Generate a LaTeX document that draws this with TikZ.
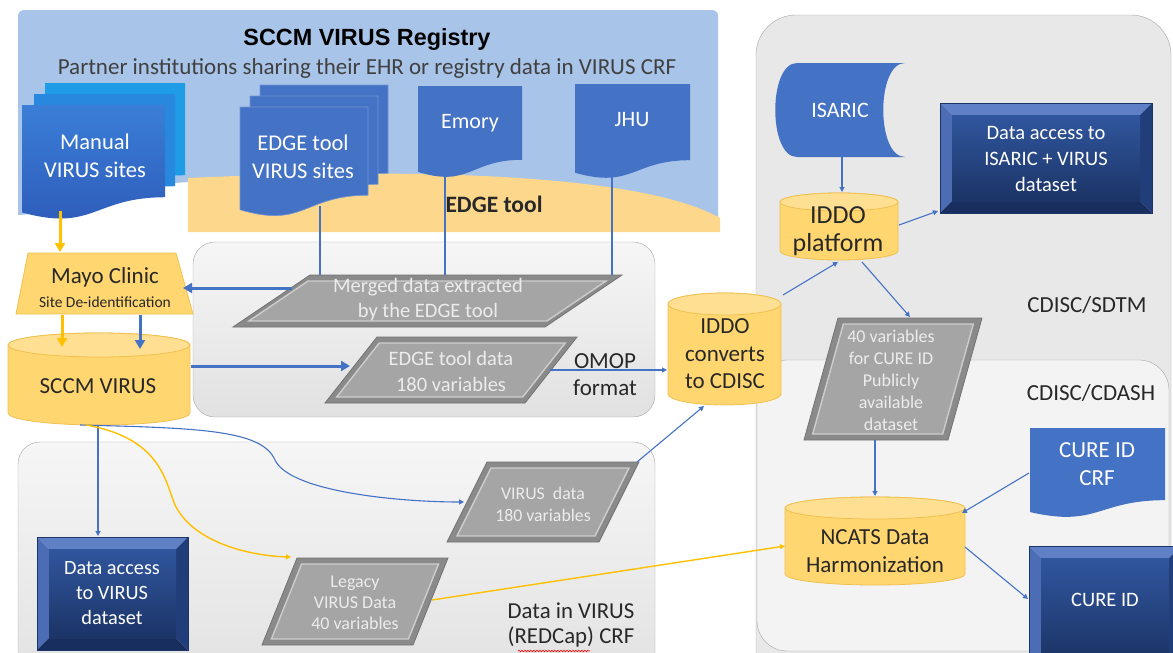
\documentclass[tikz,border=0pt]{standalone}
\usepackage{fontspec}
\setmainfont{Carlito}
\newfontfamily\arialfont{Liberation Sans}
\usetikzlibrary{arrows.meta,decorations.pathmorphing}
\definecolor{bgblue}{RGB}{168,196,232}
\definecolor{edgeyel}{RGB}{252,215,140}
\definecolor{docblue}{RGB}{68,114,196}
\definecolor{cylyel}{RGB}{255,214,112}
\definecolor{cylcap}{RGB}{255,224,146}
\definecolor{cylline}{RGB}{240,192,80}
\definecolor{txtdark}{RGB}{40,40,40}
\definecolor{txtgray}{RGB}{64,64,64}
\definecolor{arrowyel}{RGB}{255,192,0}
\definecolor{boxline}{RGB}{165,165,165}
\definecolor{boxtop}{RGB}{246,246,246}
\definecolor{boxbot}{RGB}{225,225,225}
\definecolor{rgray}{RGB}{232,232,232}
\definecolor{rgraytwo}{RGB}{243,243,243}
\definecolor{partxt}{RGB}{236,236,236}
\definecolor{parout}{RGB}{138,138,138}
\definecolor{paroutline}{RGB}{115,115,115}
\definecolor{parin}{RGB}{165,165,165}
\definecolor{parinline}{RGB}{205,205,205}
\definecolor{navytop}{RGB}{48,86,158}
\definecolor{navybot}{RGB}{28,52,102}
\definecolor{bevtop}{RGB}{96,128,198}
\definecolor{bevleft}{RGB}{76,108,180}
\definecolor{bevright}{RGB}{34,62,122}
\definecolor{bevbot}{RGB}{24,46,94}
\definecolor{mantop}{RGB}{58,126,216}
\definecolor{manbot}{RGB}{46,90,184}
\definecolor{manback}{RGB}{30,156,230}
\definecolor{manmid}{RGB}{40,136,222}
\newcommand\fs[2]{\fontsize{#1}{#2}\selectfont}
\newcommand\mydoc[4]{(#1,#2) -- (#3,#2) -- (#3,{#2+0.802*(#4-#2)}) .. controls ({(#1+#3)/2},{#2+0.802*(#4-#2)}) and ({(#1+#3)/2},{#2+1.107*(#4-#2)}) .. (#1,{#2+0.934*(#4-#2)}) -- cycle}
\newcommand\mycyl[5]{%
 \pgfmathsetmacro\mycx{(#1+#3)/2}%
 \pgfmathsetmacro\myrx{(#3-#1)/2}%
 \pgfmathsetmacro\mykx{0.5523*\myrx}%
 \pgfmathsetmacro\myky{0.5523*#5}%
 \filldraw[fill=cylyel, draw=cylline, line width=0.8pt] (#1,#2) -- (#1,#4) .. controls (#1,{#4+\myky}) and ({\mycx-\mykx},{#4+#5}) .. (\mycx,{#4+#5}) .. controls ({\mycx+\mykx},{#4+#5}) and (#3,{#4+\myky}) .. (#3,#4) -- (#3,#2) .. controls (#3,{#2-\myky}) and ({\mycx+\mykx},{#2-#5}) .. (\mycx,{#2-#5}) .. controls ({\mycx-\mykx},{#2-#5}) and (#1,{#2-\myky}) .. (#1,#2) -- cycle;
 \filldraw[fill=cylcap, draw=cylline, line width=0.8pt] (\mycx,#2) ellipse [x radius=\myrx, y radius=#5];
}
\newcommand\mypara[5]{%
 \pgfmathsetmacro\myph{#5-#2}%
 \pgfmathsetmacro\mysa{#4*6/\myph}%
 \pgfmathsetmacro\mysb{#4*(\myph-6)/\myph}%
 \filldraw[fill=parout, draw=paroutline, line width=0.8pt] (#1,#2) -- (#3,#2) -- ({#3-#4},#5) -- ({#1-#4},#5) -- cycle;
 \filldraw[fill=parin, draw=parinline, line width=1.4pt] ({#1-\mysa+7},{#2+6}) -- ({#3-\mysa-7},{#2+6}) -- ({#3-\mysb-7},{#5-6}) -- ({#1-\mysb+7},{#5-6}) -- cycle;
}
\newcommand\mybevel[5]{%
 \fill[bevtop] (#1,#2) -- (#3,#2) -- ({#3-#5},{#2+#5}) -- ({#1+#5},{#2+#5}) -- cycle;
 \fill[bevleft] (#1,#2) -- ({#1+#5},{#2+#5}) -- ({#1+#5},{#4-#5}) -- (#1,#4) -- cycle;
 \fill[bevright] (#3,#2) -- (#3,#4) -- ({#3-#5},{#4-#5}) -- ({#3-#5},{#2+#5}) -- cycle;
 \fill[bevbot] (#1,#4) -- (#3,#4) -- ({#3-#5},{#4-#5}) -- ({#1+#5},{#4-#5}) -- cycle;
 \shade[top color=navytop, bottom color=navybot] ({#1+#5},{#2+#5}) rectangle ({#3-#5},{#4-#5});
 \draw[navybot, line width=0.6pt] (#1,#2) rectangle (#3,#4);
}
\tikzset{
 lbl/.style={inner sep=0pt, align=center},
 thickb/.style={draw=docblue, line width=3pt, -{Triangle[length=9pt,width=10pt]}},
 thicky/.style={draw=arrowyel, line width=3pt, -{Triangle[length=9pt,width=10pt]}},
 thinb/.style={draw=docblue, line width=1.1pt, -{Triangle[length=5pt,width=5pt]}},
 thiny/.style={draw=arrowyel, line width=1.4pt, -{Triangle[length=5pt,width=5pt]}},
 plainb/.style={draw=docblue, line width=1.6pt},
 edgedoc/.style={fill=docblue, draw=white!25!docblue, line width=0.6pt},
 contbox/.style={top color=boxtop, bottom color=boxbot, draw=boxline, rounded corners=22pt},
}
\begin{document}
\begin{tikzpicture}[x=1pt,y=-1pt]
\useasboundingbox (0,0) rectangle (1173,653);
\clip (0,0) rectangle (1173,653);
% registry background
\fill[bgblue] (18,215) [rounded corners=6pt] -- (18,10) -- (718,10) [sharp corners] -- (718,225) -- (190,225) -- (190,182) .. controls (120,185) and (80,212) .. (18,215) -- cycle;
\fill[edgeyel] (188,178) .. controls (450,166) and (650,178) .. (720,218) -- (720,232) -- (188,232) -- cycle;
% right containers
\filldraw[fill=rgray, draw=boxline, rounded corners=40pt] (756,15) rectangle (1171,700);
\filldraw[fill=rgraytwo, draw=boxline, rounded corners=30pt] (757,360) rectangle (1169,651);
% middle and lower containers
\shadedraw[contbox] (193,242) rectangle (655,417);
\shadedraw[contbox] (18,442) rectangle (655,690);
% manual sites (multidocument)
\fill[manback] \mydoc{45}{83}{185}{198};
\fill[manmid] \mydoc{34}{94}{175}{209};
\shade[top color=mantop, bottom color=manbot] \mydoc{22}{105}{165}{220};
% EDGE sites (multidocument)
\filldraw[edgedoc] \mydoc{260}{85}{388}{195};
\filldraw[edgedoc] \mydoc{250}{96}{378}{206};
\filldraw[edgedoc] \mydoc{240}{107}{368}{217};
% Emory, JHU
\fill[docblue] \mydoc{418}{86}{522}{178};
\fill[docblue] \mydoc{575}{84}{690}{179};
% ISARIC stored data
\fill[docblue] (797,63) -- (905,63) .. controls (876,63) and (876,157) .. (905,157) -- (797,157) .. controls (768,157) and (768,63) .. (797,63) -- cycle;
% CURE ID CRF
\fill[docblue] \mydoc{1030}{428}{1165}{518};
% Mayo trapezoid
\filldraw[fill=cylyel, draw=cylline, line width=0.8pt] (28,253) -- (176,253) -- (193,314) -- (16,314) -- cycle;
% cylinders
\mycyl{8}{345}{190}{413}{12}
\mycyl{668}{304}{781}{394}{11}
\mycyl{780}{202}{898}{251}{9}
\mycyl{785}{508}{965}{574}{11}
% parallelograms
\mypara{310}{275}{622}{77}{327}
\mypara{377}{337}{577}{52}{403}
\mypara{487}{462}{639}{40}{542}
\mypara{297}{558}{448}{35}{645}
\mypara{838}{318}{982}{34}{440}
% bevel boxes
\mybevel{37}{537}{188}{650}{12}
\mybevel{940}{103}{1152}{213}{12}
\mybevel{1029}{546}{1181}{672}{12}
% connector end points
\coordinate (manB) at (60,211);
\coordinate (mayoT) at (60,252);
\coordinate (mayoB1) at (62,315);
\coordinate (sccmT1) at (62,347);
\coordinate (mayoB2) at (140,315);
\coordinate (sccmT2) at (140,349);
\coordinate (mergL) at (292,288);
\coordinate (mayoR) at (183,288);
\coordinate (sccmR) at (191,366);
\coordinate (edL) at (350,366);
\coordinate (edgeB) at (320,206);
\coordinate (mergT1) at (320,275);
\coordinate (emoB) at (445,172);
\coordinate (mergT2) at (445,275);
\coordinate (jhuB) at (612,172);
\coordinate (mergT3) at (612,275);
\coordinate (edR) at (550,370);
\coordinate (iddocL) at (667,370);
\coordinate (vdTR) at (637,462);
\coordinate (iddocB) at (704,406);
\coordinate (sccmB) at (98,426);
\coordinate (davT) at (98,536);
\coordinate (sccmB2) at (80,425);
\coordinate (vdL) at (464,502);
\coordinate (sccmB3) at (86,425);
\coordinate (legL) at (291,557);
\coordinate (legR) at (432,600);
\coordinate (ncL) at (785,546);
\coordinate (iddocT) at (783,295);
\coordinate (iddopB) at (838,262);
\coordinate (isaB) at (842,157);
\coordinate (iddopT) at (842,192);
\coordinate (iddopR) at (899,225);
\coordinate (daiL) at (938,211);
\coordinate (iddopB2) at (862,262);
\coordinate (fvT) at (910,317);
\coordinate (fvB) at (875,440);
\coordinate (ncT) at (875,496);
\coordinate (crfL) at (1029,473);
\coordinate (ncTR) at (962,513);
\coordinate (ncR) at (965,547);
\coordinate (cureL) at (1028,599);
% connectors
\draw[thicky] (manB) -- (mayoT);
\draw[thicky] (mayoB1) -- (sccmT1);
\draw[thickb] (mayoB2) -- (sccmT2);
\draw[thickb] (mergL) -- (mayoR);
\draw[thickb] (sccmR) -- (edL);
\draw[plainb] (edgeB) -- (mergT1);
\draw[plainb] (emoB) -- (mergT2);
\draw[plainb] (jhuB) -- (mergT3);
\draw[thinb] (edR) -- (iddocL);
\draw[thinb] (vdTR) -- (iddocB);
\draw[thinb] (sccmB) -- (davT);
\draw[thinb] (sccmB2) .. controls (200,428) and (262,430) .. (275,460) .. controls (290,492) and (400,502) .. (vdL);
\draw[thiny] (sccmB3) .. controls (160,438) and (165,480) .. (175,505) .. controls (195,545) and (255,556) .. (legL);
\draw[thiny] (legR) -- (ncL);
\draw[thinb] (iddocT) -- (iddopB);
\draw[thinb] (isaB) -- (iddopT);
\draw[thinb] (iddopR) -- (daiL);
\draw[thinb] (iddopB2) -- (fvT);
\draw[thinb] (fvB) -- (ncT);
\draw[thinb] (crfL) -- (ncTR);
\draw[thinb] (ncR) -- (cureL);
% texts
\node[lbl, font=\arialfont\bfseries\fs{23.4}{26}] (title) at (367,40) {SCCM VIRUS Registry};
\node[lbl, text=txtgray, font=\fs{23}{26}] (partner) at (367,68) {Partner institutions sharing their EHR or registry data in VIRUS CRF};
\node[lbl, text=white, font=\fs{22.5}{28}] (manual) at (95,156) {Manual\\VIRUS sites};
\node[lbl, text=white, font=\fs{22.5}{28}] (edgesites) at (303,157) {EDGE tool\\VIRUS sites};
\node[lbl, text=white, font=\fs{22}{24}] (emory) at (470,123) {Emory};
\node[lbl, text=white, font=\fs{22}{24}] (jhu) at (632,120) {JHU};
\node[lbl, text=txtdark, font=\bfseries\fs{23.5}{26}] (edgetool) at (494,204) {EDGE tool};
\node[lbl, text=txtdark, font=\fs{23}{26}] (mayo) at (105,277) {Mayo Clinic};
\node[lbl, text=txtdark, font=\fs{15.5}{18}] (deid) at (105,302) {Site De-identification};
\node[lbl, text=txtdark, font=\fs{23}{26}] (sccm) at (98,386) {SCCM VIRUS};
\node[lbl, text=partxt, font=\fs{20.5}{25}] (merged) at (428,300) {Merged data extracted\\by the EDGE tool};
\node[lbl, text=partxt, font=\fs{20.5}{26}] (edgedata) at (451,371) {EDGE tool data\\180 variables};
\node[lbl, text=txtdark, font=\fs{23}{27}] (omop) at (605,375) {OMOP\\format};
\node[lbl, text=txtdark, font=\fs{23}{27.5}] (iddoc) at (725,354) {IDDO\\converts\\to CDISC};
\node[lbl, text=white, font=\fs{22}{24}] (isaric) at (840,110) {ISARIC};
\node[lbl, text=txtdark, font=\fs{26}{28}] (iddop) at (838,231) {IDDO\\platform};
\node[lbl, text=white, font=\fs{20.5}{26}] (dai) at (1046,159) {Data access to\\ISARIC + VIRUS\\dataset};
\node[lbl, text=txtdark, font=\fs{23}{26}] (sdtm) at (1087,305) {CDISC/SDTM};
\node[lbl, text=partxt, font=\fs{18}{22}] (fortyv) at (891,380) {40 variables\\for CURE ID\\Publicly\\available\\dataset};
\node[lbl, text=txtdark, font=\fs{23}{26}] (cdash) at (1091,393) {CDISC/CDASH};
\node[lbl, text=white, font=\fs{23}{28}] (crf) at (1097,464) {CURE ID\\CRF};
\node[lbl, text=txtdark, font=\fs{23}{28}] (ncats) at (875,551) {NCATS Data\\Harmonization};
\node[lbl, text=white, font=\fs{20.5}{24}] (cureid) at (1105,600) {CURE ID};
\node[lbl, text=partxt, font=\fs{17.8}{22}] (vdata) at (543,504) {VIRUS~ data\\180 variables};
\node[lbl, text=partxt, font=\fs{18}{21}] (legacy) at (355,603) {Legacy\\VIRUS Data\\40 variables};
\node[lbl, text=white, font=\fs{20.3}{25}] (dav) at (112,593) {Data access\\to VIRUS\\dataset};
\node[lbl, text=txtdark, font=\fs{22.8}{25}] (redcap) at (571,625) {Data in VIRUS\\(REDCap) CRF};
\draw[red, line width=0.6pt, decorate, decoration={snake, amplitude=0.8pt, segment length=3pt}] (518,651) -- (590,651);
\end{tikzpicture}
\end{document}
